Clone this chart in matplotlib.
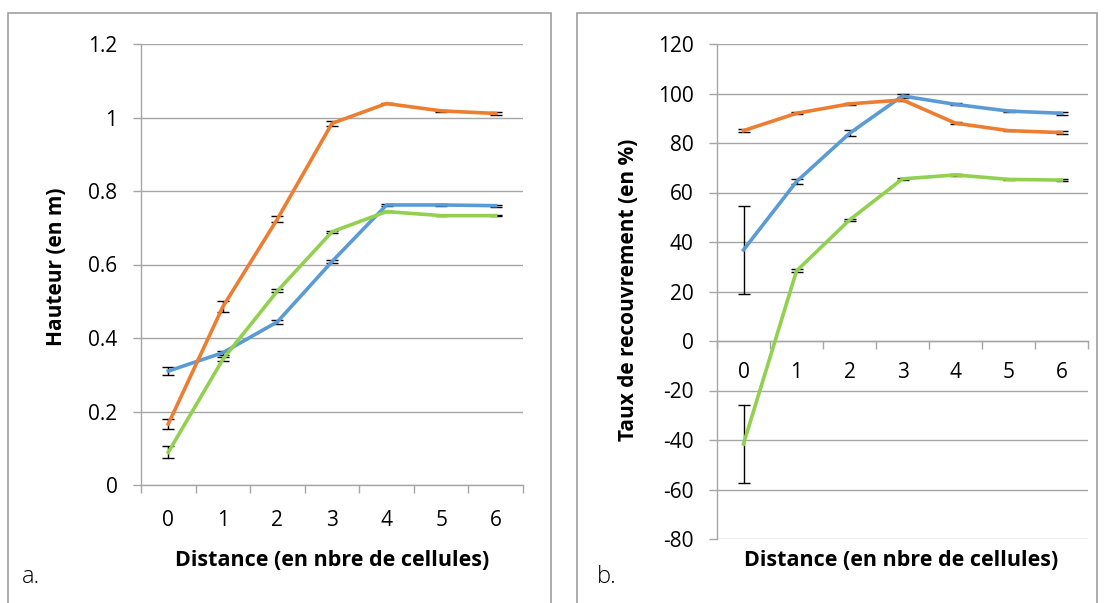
import numpy as np
import matplotlib.pyplot as plt
from matplotlib.patches import Rectangle

plt.rcParams['font.family'] = ['Open Sans', 'DejaVu Sans']

# Données
distances = [0, 1, 2, 3, 4, 5, 6]

# a. Hauteur (en m)
haut_bleu = [0.31, 0.36, 0.444, 0.608, 0.762, 0.762, 0.760]
haut_bleu_err = [0.012, 0.005, 0.006, 0.005, 0.003, 0.002, 0.003]
haut_orange = [0.166, 0.485, 0.724, 0.984, 1.038, 1.018, 1.011]
haut_orange_err = [0.013, 0.015, 0.008, 0.007, 0.002, 0.002, 0.003]
haut_vert = [0.089, 0.342, 0.528, 0.689, 0.744, 0.733, 0.733]
haut_vert_err = [0.016, 0.005, 0.004, 0.003, 0.002, 0.002, 0.002]

# b. Taux de recouvrement (en %)
taux_bleu = [36.8, 64.4, 83.9, 99.0, 95.6, 92.9, 92.0]
taux_bleu_err = [17.8, 1.0, 1.2, 0.6, 0.4, 0.4, 0.6]
taux_orange = [85.0, 92.0, 95.8, 97.4, 88.0, 85.0, 84.2]
taux_orange_err = [0.5, 0.4, 0.4, 0.6, 0.4, 0.3, 0.5]
taux_vert = [-41.6, 28.3, 48.9, 65.5, 67.1, 65.3, 65.0]
taux_vert_err = [15.8, 0.6, 0.5, 0.4, 0.3, 0.3, 0.4]

couleurs = ['#5B9BD5', '#ED7D31', '#92D050']
gris = '#a6a6a6'

fig = plt.figure(figsize=(11.05, 6.03), dpi=100)
W, H = 1105, 603

# cadres des deux graphiques
fig.patches.append(Rectangle((8 / W, -0.01), 543 / W, 1.01 - 13 / H,
                             transform=fig.transFigure, fill=False,
                             edgecolor='#a0a0a0', lw=1.2))
fig.patches.append(Rectangle((577 / W, -0.01), 520 / W, 1.01 - 13 / H,
                             transform=fig.transFigure, fill=False,
                             edgecolor='#a0a0a0', lw=1.2))


def tracer(ax, series, erreurs, ylim, ystep, pad_x, fmt):
    x = np.array(distances) + 0.5
    for vals, errs, c in zip(series, erreurs, couleurs):
        ax.errorbar(x, vals, yerr=errs, color=c, lw=2.6, ecolor='black',
                    elinewidth=1, capsize=4.5, capthick=1, zorder=3)
    ax.set_xlim(0, 7)
    ax.set_ylim(*ylim)
    yt = np.arange(ylim[0], ylim[1] + ystep / 2, ystep)
    ax.set_yticks(yt)
    ax.set_yticklabels([fmt(v) for v in yt])
    ax.yaxis.grid(True, color=gris, lw=1)
    ax.set_axisbelow(True)
    ax.set_xticks(range(8))
    ax.set_xticklabels([])
    ax.set_xticks(x, minor=True)
    ax.set_xticklabels([str(d) for d in distances], minor=True)
    ax.tick_params(axis='x', which='major', length=6, width=1, color=gris)
    ax.tick_params(axis='x', which='minor', length=0, pad=pad_x, labelsize=15)
    ax.tick_params(axis='y', length=6, width=1, color=gris, pad=11, labelsize=15)
    for s in ['top', 'right']:
        ax.spines[s].set_visible(False)
    for s in ['left', 'bottom']:
        ax.spines[s].set_color(gris)
        ax.spines[s].set_linewidth(1)


ax1 = fig.add_axes([141 / W, (H - 485) / H, 382 / W, 441 / H])
tracer(ax1, [haut_bleu, haut_orange, haut_vert],
       [haut_bleu_err, haut_orange_err, haut_vert_err],
       (0, 1.2), 0.2, 18,
       lambda v: '0' if abs(v) < 1e-9 else ('1' if abs(v - 1) < 1e-9 else f'{v:.1f}'))

ax2 = fig.add_axes([717 / W, (H - 539) / H, 371 / W, 495 / H])
tracer(ax2, [taux_bleu, taux_orange, taux_vert],
       [taux_bleu_err, taux_orange_err, taux_vert_err],
       (-80, 120), 20, 15, lambda v: f'{int(round(v))}')
ax2.spines['bottom'].set_position(('data', 0))

fig.text(57 / W, 1 - 267 / H, 'Hauteur (en m)', fontsize=15, fontweight='bold',
         rotation=90, ha='center', va='center')
fig.text(629 / W, 1 - 290 / H, 'Taux de recouvrement (en %)', fontsize=15,
         fontweight='bold', rotation=90, ha='center', va='center')
fig.text(332 / W, 1 - 560 / H, 'Distance (en nbre de cellules)', fontsize=15.5,
         fontweight='bold', ha='center', va='center')
fig.text(901 / W, 1 - 560 / H, 'Distance (en nbre de cellules)', fontsize=15.5,
         fontweight='bold', ha='center', va='center')
fig.text(22 / W, 1 - 577 / H, 'a.', fontsize=17, fontweight='light', ha='left', va='center')
fig.text(597 / W, 1 - 577 / H, 'b.', fontsize=17, fontweight='light', ha='left', va='center')

plt.savefig('out.png', dpi=100)
